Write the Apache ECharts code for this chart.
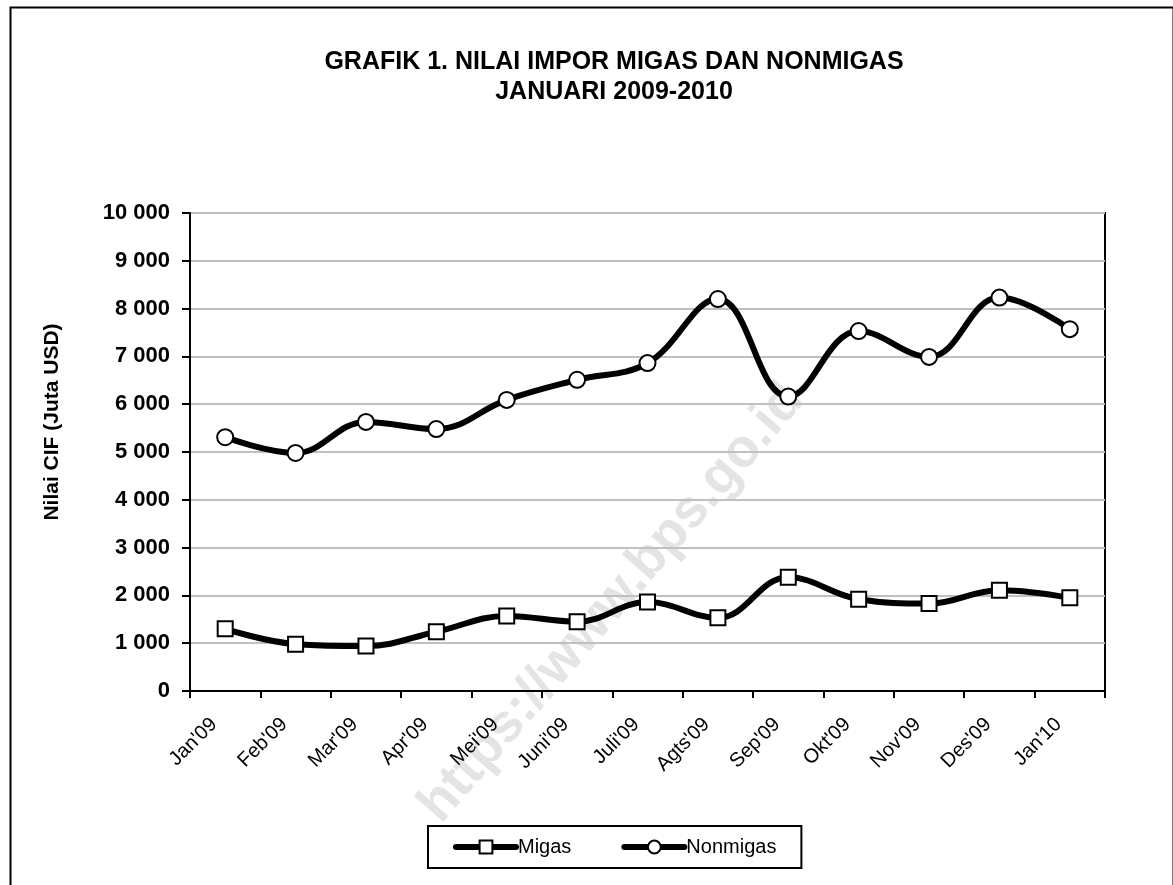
<!DOCTYPE html>
<html>
<head>
<meta charset="utf-8">
<script src="https://cdn.jsdelivr.net/npm/echarts@6/dist/echarts.min.js"></script>
<style>
html,body{margin:0;padding:0;background:#fff;}
#chart{width:1173px;height:885px;}
</style>
</head>
<body>
<div id="chart"></div>
<script>
const categories = ["Jan'09","Feb'09","Mar'09","Apr'09","Mei'09","Juni'09","Juli'09","Agts'09","Sep'09","Okt'09","Nov'09","Des'09","Jan'10"];
const migas = [1300, 980, 940, 1240, 1570, 1450, 1860, 1530, 2380, 1920, 1830, 2110, 1950];
const nonmigas = [5310, 4980, 5630, 5480, 6090, 6510, 6860, 8200, 6160, 7530, 6990, 8230, 7570];
const titleLines = ["GRAFIK 1. NILAI IMPOR MIGAS DAN NONMIGAS", "JANUARI 2009-2010"];
const yAxisName = "Nilai CIF (Juta USD)";
const watermark = "https://www.bps.go.id";

const chart = echarts.init(document.getElementById('chart'));
const FONT = '"Liberation Sans", Arial, sans-serif';
chart.setOption({
  animation: false,
  backgroundColor: '#fff',
  title: {
    text: titleLines.join('\n'),
    left: 609, top: 42, textAlign: 'center',
    textStyle: {fontFamily: FONT, fontSize: 25, fontWeight: 'bold', color: '#000', lineHeight: 30}
  },
  graphic: [
    {type: 'rect', left: 8, top: 5, shape: {width: 1163, height: 900}, style: {fill: 'none', stroke: '#000', lineWidth: 2}, z: 0, silent: true},
    {type: 'text', x: 612, y: 603, rotation: 0.86, z: -1, silent: true,
     style: {text: watermark, fill: '#e4e4e4', font: 'bold 54px ' + FONT, textAlign: 'center', textVerticalAlign: 'middle'}},
    {type: 'text', x: 52, y: 422, rotation: Math.PI / 2, z: 5, silent: true,
     style: {text: yAxisName, fill: '#000', font: 'bold 21px ' + FONT, textAlign: 'center', textVerticalAlign: 'middle'}}
  ],
  grid: {left: 190, right: 68, top: 213, bottom: 194, show: true, borderColor: '#000', borderWidth: 2, backgroundColor: 'transparent'},
  legend: {
    data: ['Migas', 'Nonmigas'],
    left: 428, top: 826,
    padding: [11, 25, 11, 25],
    itemGap: 50, itemWidth: 60, itemHeight: 16,
    borderColor: '#000', borderWidth: 2,
    lineStyle: {width: 6, cap: 'round'},
    itemStyle: {borderWidth: 2},
    textStyle: {fontFamily: FONT, fontSize: 20, color: '#000', padding: [0, 0, 0, -3]}
  },
  xAxis: {
    type: 'category', data: categories, boundaryGap: true,
    axisLine: {lineStyle: {color: '#000', width: 2}},
    axisTick: {show: true, length: 7, lineStyle: {color: '#000', width: 2}},
    axisLabel: {rotate: 45, fontFamily: FONT, fontSize: 20, color: '#000', margin: 19, padding: [0, 16, 0, 0]}
  },
  yAxis: {
    type: 'value', min: 0, max: 10000, interval: 1000,
    axisLine: {show: true, lineStyle: {color: '#000', width: 2}},
    axisTick: {show: true, length: 8, lineStyle: {color: '#000', width: 2}},
    axisLabel: {fontFamily: FONT, fontSize: 22, fontWeight: 'bold', color: '#000', margin: 20,
      formatter: v => String(v).replace(/\B(?=(\d{3})+(?!\d))/g, ' ')},
    splitLine: {show: true, lineStyle: {color: '#c0c0c0', width: 2}}
  },
  series: [
    {name: 'Migas', type: 'line', data: migas, smooth: 0.4, symbol: 'rect', symbolSize: 15,
     lineStyle: {color: '#000', width: 6}, itemStyle: {color: '#fff', borderColor: '#000', borderWidth: 2}, z: 3},
    {name: 'Nonmigas', type: 'line', data: nonmigas, smooth: 0.4, symbol: 'circle', symbolSize: 16,
     lineStyle: {color: '#000', width: 6}, itemStyle: {color: '#fff', borderColor: '#000', borderWidth: 2}, z: 3}
  ]
});
</script>
</body>
</html>
